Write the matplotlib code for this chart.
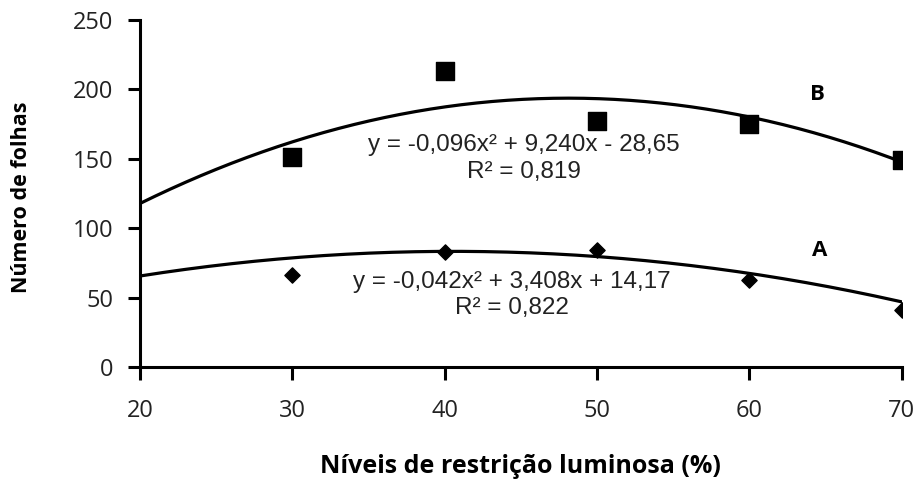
import numpy as np
import matplotlib.pyplot as plt

# data
niveis = [30, 40, 50, 60, 70]
folhas_b = [151, 213, 177, 175, 149]
folhas_a = [66, 83, 84, 63, 41]

# trend line coefficients (a, b, c) as printed on the chart
coef_b = [-0.096, 9.240, -28.65]
coef_a = [-0.042, 3.408, 14.17]

eq_b = "y = -0,096x² + 9,240x - 28,65"
r2_b = "R² = 0,819"
eq_a = "y = -0,042x² + 3,408x + 14,17"
r2_a = "R² = 0,822"

fig = plt.figure(figsize=(9.2, 4.88), dpi=100)
ax = fig.add_axes([0.152, 0.248, 0.828, 0.711])

xs = np.linspace(20, 70, 200)
ax.plot(xs, np.polyval(coef_b, xs), color="black", lw=2.3, zorder=2)
ax.plot(xs, np.polyval(coef_a, xs), color="black", lw=2.3, zorder=2)

ax.scatter(niveis, folhas_b, marker="s", s=170, color="black", zorder=3)
ax.scatter(niveis, folhas_a, marker="D", s=60, color="black", zorder=3)

# equations
eq_style = dict(ha="center", va="center", fontsize=17.5,
                family="Liberation Sans", color="#222222")
ax.text(45.2, 160, eq_b, **eq_style)
ax.text(45.2, 140.5, r2_b, **eq_style)
ax.text(44.4, 61, eq_a, **eq_style)
ax.text(44.4, 42.5, r2_a, **eq_style)

ax.text(64.5, 196, "B", ha="center", va="center", fontsize=16,
        fontweight="bold", family="Open Sans")
ax.text(64.6, 84, "A", ha="center", va="center", fontsize=16,
        fontweight="bold", family="Open Sans")

ax.set_xlim(20, 70)
ax.set_ylim(0, 250)
ax.set_xticks([20, 30, 40, 50, 60, 70])
ax.set_yticks([0, 50, 100, 150, 200, 250])

for side in ["top", "right"]:
    ax.spines[side].set_visible(False)
for side in ["left", "bottom"]:
    ax.spines[side].set_linewidth(2.2)

ax.tick_params(direction="out", length=9, width=2.2, labelsize=17, pad=10)
for lab in ax.get_xticklabels() + ax.get_yticklabels():
    lab.set_family("Open Sans")
    lab.set_color("#222222")
ax.tick_params(axis="x", pad=14)

ax.set_xlabel("Níveis de restrição luminosa (%)", fontsize=18,
              fontweight="bold", family="Open Sans", va="center")
ax.set_ylabel("Número de folhas", fontsize=15.5, fontweight="bold",
              family="Open Sans", va="center")
ax.xaxis.set_label_coords(0.499, -0.288)
ax.yaxis.set_label_coords(-0.155, 0.49)

plt.savefig("out.png", dpi=100)
